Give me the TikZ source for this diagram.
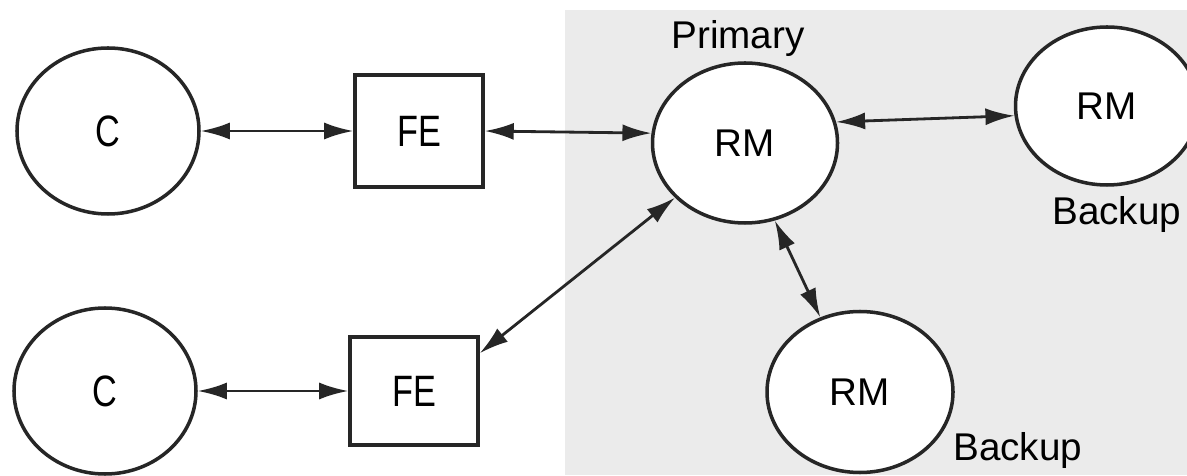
\documentclass[tikz,border=0pt]{standalone}
\usepackage{fontspec}
\setmainfont{Liberation Sans}
\newfontfamily\narrowfont{Liberation Sans}[FakeStretch=0.78]
\usetikzlibrary{shapes.geometric,arrows.meta}
\begin{document}
\begin{tikzpicture}[
  >={Latex[length=0.58cm,width=0.34cm]},
  conn/.style={<->, line width=1.6pt, draw=black!85},
  ell/.style={ellipse, draw=black!85, line width=2pt, fill=white, inner sep=0pt},
  febox/.style={rectangle, draw=black!85, line width=2pt, fill=white, inner sep=0pt,
    minimum width=2.56cm, font=\narrowfont\fontsize{25}{28}\selectfont},
  cnode/.style={ell, minimum width=3.64cm, minimum height=3.32cm, font=\narrowfont\fontsize{25}{28}\selectfont},
  rmnode/.style={ell, font=\fontsize{22}{26}\selectfont},
  lbl/.style={inner sep=0pt, font=\fontsize{22}{26}\selectfont}
]
\useasboundingbox (0,0) rectangle (23.74,9.5);
\fill[black!8] (11.3,0) rectangle (23.74,9.3);

\node[cnode] (C1) at (2.16,6.88) {C};
\node[cnode] (C2) at (2.10,1.68) {C};
\node[febox, minimum height=2.24cm] (FE1) at (8.38,6.88) {FE};
\node[febox, minimum height=2.16cm] (FE2) at (8.28,1.68) {FE};
\node[rmnode, minimum width=3.7cm, minimum height=3.2cm] (P) at (14.9,6.64) {RM};
\node[rmnode, minimum width=3.66cm, minimum height=3.16cm] (R1) at (22.14,7.38) {RM};
\node[rmnode, minimum width=3.72cm, minimum height=3.22cm] (R2) at (17.2,1.66) {RM};

\node[lbl, anchor=base] (prim) at (14.76,8.52) {Primary};
\node[lbl, anchor=base west] (bk1) at (21.04,5.0) {Backup};
\node[lbl, anchor=base west] (bk2) at (19.06,0.3) {Backup};

\draw[conn] (C1) -- (FE1);
\draw[conn] (C2) -- (FE2);
\draw[conn] (FE1.east) -- (P.174);
\draw[conn] (P.13) -- (R1.186);
\draw[conn] ([yshift=-0.36cm]FE2.north east) -- (P.218);
\draw[conn] (P.291) -- (R2.118);
\end{tikzpicture}
\end{document}
